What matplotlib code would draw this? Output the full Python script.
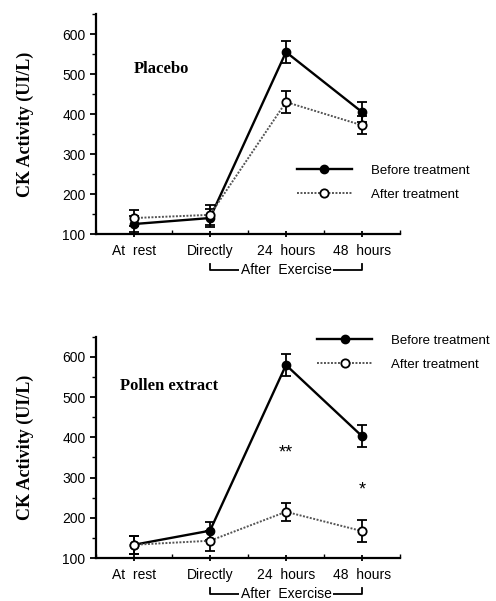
import numpy as np
import matplotlib.pyplot as plt
from matplotlib.ticker import MultipleLocator
import matplotlib.transforms as mtransforms

plt.rcParams['font.family'] = ['Liberation Sans', 'DejaVu Sans']

# data
categories = ['At  rest', 'Directly', '24  hours', '48  hours']
placebo_before = [125, 140, 555, 405]
placebo_before_err = [20, 22, 28, 25]
placebo_after = [140, 148, 430, 372]
placebo_after_err = [20, 25, 28, 22]
pollen_before = [133, 168, 580, 403]
pollen_before_err = [22, 22, 28, 27]
pollen_after = [133, 143, 215, 167]
pollen_after_err = [22, 25, 23, 27]
panel_titles = ['Placebo', 'Pollen extract']
signif = [('**', 2, 362), ('*', 3, 268)]

x = np.arange(len(categories))

fig = plt.figure(figsize=(4.96, 6.01), dpi=100)
ax1 = fig.add_axes([0.1935, 0.6106, 0.613, 0.366])
ax2 = fig.add_axes([0.1935, 0.0715, 0.613, 0.368])

def draw_panel(ax, before, before_err, after, after_err, title, title_xy, leg_anchor):
    ax.errorbar(x, before, yerr=before_err, fmt='none', ecolor='black', elinewidth=1.3, capsize=3.5, capthick=1.3)
    ax.errorbar(x, after, yerr=after_err, fmt='none', ecolor='black', elinewidth=1.3, capsize=3.5, capthick=1.3)
    ax.plot(x, before, '-o', color='black', lw=1.7, ms=6, mfc='black', label='Before treatment', zorder=3)
    ax.plot(x, after, 'o', linestyle=(0, (1, 0.8)), color='#555555', lw=1.4, ms=6, mfc='white',
            mec='black', mew=1.3, label='After treatment', zorder=3)

    ax.set_xlim(-0.5, 3.5)
    ax.set_ylim(100, 650)
    ax.set_xticks(x)
    ax.set_xticklabels(categories, fontsize=10)
    ax.xaxis.set_minor_locator(MultipleLocator(0.5))
    ax.set_yticks([100, 200, 300, 400, 500, 600])
    ax.yaxis.set_minor_locator(MultipleLocator(50))
    ax.tick_params(axis='y', labelsize=10, width=1.3, length=4, direction='out')
    ax.tick_params(axis='y', which='minor', width=1, length=3, direction='out')
    ax.tick_params(axis='x', width=1.3, length=5, direction='inout', pad=5)
    ax.tick_params(axis='x', which='minor', width=1, length=3, direction='in')
    for s in ['top', 'right']:
        ax.spines[s].set_visible(False)
    for s in ['left', 'bottom']:
        ax.spines[s].set_linewidth(1.6)

    ax.set_ylabel('CK Activity (UI/L)', family='Liberation Serif', fontweight='bold', fontsize=13)
    ax.yaxis.set_label_coords(-0.205, 0.5)
    ax.text(title_xy[0], title_xy[1], title, family='Liberation Serif', fontweight='bold', fontsize=12,
            ha='left', va='center')

    ax.legend(loc='upper left', bbox_to_anchor=leg_anchor, frameon=False, fontsize=9.5,
              handlelength=4.2, handletextpad=1.4, labelspacing=0.9, borderpad=0, borderaxespad=0)

    # "After Exercise" bracket under the x axis
    trans = mtransforms.blended_transform_factory(ax.transData, ax.transAxes)
    y_br = -0.163
    ax.plot([x[1], x[1], x[3], x[3]], [-0.135, y_br, y_br, -0.135], color='black', lw=1.3,
            transform=trans, clip_on=False)
    ax.text((x[1] + x[3]) / 2, y_br, 'After  Exercise', transform=trans, ha='center', va='center',
            fontsize=10, bbox=dict(facecolor='white', edgecolor='none', pad=1))

draw_panel(ax1, placebo_before, placebo_before_err, placebo_after, placebo_after_err,
           panel_titles[0], (0.0, 512), (0.66, 0.315))
draw_panel(ax2, pollen_before, pollen_before_err, pollen_after, pollen_after_err,
           panel_titles[1], (-0.18, 528), (0.727, 1.01))

for label, xi, yi in signif:
    ax2.text(xi, yi, label, ha='center', va='center', fontsize=13)

fig.savefig('out.png', dpi=100)
